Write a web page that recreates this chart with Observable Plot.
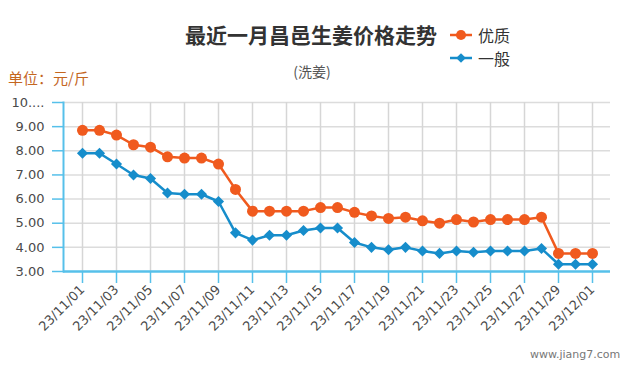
<!DOCTYPE html>
<html><head><meta charset="utf-8">
<script src="https://cdn.jsdelivr.net/npm/d3@7"></script>
<script src="https://cdn.jsdelivr.net/npm/@observablehq/plot@0.6"></script>
<style>
body{margin:0;background:#fff;}
#wrap{position:relative;width:635px;height:375px;overflow:hidden;font-family:"Noto Sans CJK SC","DejaVu Sans",sans-serif;}
#wrap svg.plot{position:absolute;left:0;top:0;}
.abs{position:absolute;white-space:nowrap;}
#title{top:24px;left:0;width:622px;text-align:center;font-size:21px;line-height:21px;font-weight:bold;color:#333;}
#sub{top:64px;left:0;width:624px;text-align:center;font-size:14px;line-height:14px;color:#555;}
#unit{top:70px;left:8px;font-size:15px;line-height:15px;color:#c4661f;}
#wm{top:349px;left:530px;font-size:11px;line-height:11px;color:#777;font-family:"DejaVu Sans",sans-serif;}
.leg{left:450px;font-size:16px;line-height:16px;color:#333;display:flex;align-items:center;}
.leg svg{margin-right:6px;}
</style></head>
<body><div id="wrap"></div>
<script>
const dates = ["23/11/01","23/11/02","23/11/03","23/11/04","23/11/05","23/11/06","23/11/07","23/11/08","23/11/09","23/11/10",
  "23/11/11","23/11/12","23/11/13","23/11/14","23/11/15","23/11/16","23/11/17","23/11/18","23/11/19","23/11/20",
  "23/11/21","23/11/22","23/11/23","23/11/24","23/11/25","23/11/26","23/11/27","23/11/28","23/11/29","23/11/30","23/12/01"];
const youzhi = [8.85,8.85,8.65,8.25,8.15,7.75,7.7,7.7,7.45,6.4,5.5,5.5,5.5,5.5,5.65,5.65,5.45,5.3,5.2,5.25,5.1,5.0,5.15,5.05,5.15,5.15,5.15,5.25,3.75,3.75,3.75];
const yiban = [7.9,7.9,7.45,7.0,6.85,6.25,6.2,6.2,5.9,4.6,4.3,4.5,4.5,4.7,4.8,4.8,4.2,4.0,3.9,4.0,3.85,3.75,3.85,3.8,3.85,3.85,3.85,3.95,3.3,3.3,3.3];
const seriesNames = ["优质","一般"];
const seriesColors = ["#f05a1e","#168dcb"];
const xTicks = dates.filter((d,i)=>i%2===0);
const yTicks = [3,4,5,6,7,8,9,10];
const yTickLabels = ["3.00","4.00","5.00","6.00","7.00","8.00","9.00","10...."];
const title = "最近一月昌邑生姜价格走势";
const subtitle = "(洗姜)";
const unit = "单位：元/斤";
const watermark = "www.jiang7.com";

const rows = dates.flatMap((d,i)=>[
  {date:d, value:youzhi[i], series:seriesNames[0]},
  {date:d, value:yiban[i], series:seriesNames[1]}
]);
const axisBlue = "#56c0ea";

const chart = Plot.plot({
  width:635, height:375,
  marginTop:102, marginBottom:104, marginLeft:63, marginRight:25,
  style:{fontFamily:"DejaVu Sans, sans-serif", fontSize:"13px", background:"transparent", overflow:"visible"},
  x:{type:"point", domain:dates, padding:0.54, label:null},
  y:{domain:[3,10], label:null},
  color:{domain:seriesNames, range:seriesColors},
  marks:[
    Plot.ruleY(yTicks.slice(1), {stroke:"#dcdcdc", strokeWidth:1.5}),
    Plot.ruleX(xTicks, {stroke:"#d6d6d6", strokeWidth:1.5}),
    Plot.frame({anchor:"left", stroke:axisBlue, strokeWidth:2}),
    Plot.ruleY([3], {stroke:axisBlue, strokeWidth:2.5}),
    Plot.axisY({ticks:yTicks, tickSize:11, tickPadding:8, stroke:axisBlue, strokeWidth:1.5, fill:"#4a4a4a",
      tickFormat:d=>yTickLabels[yTicks.indexOf(d)], fontSize:13}),
    Plot.axisX({ticks:xTicks, tickSize:12, tickPadding:4, tickRotate:-45, stroke:axisBlue, strokeWidth:1.5, fill:"#4a4a4a", fontSize:13}),
    Plot.line(rows, {x:"date", y:"value", stroke:"series", strokeWidth:2.5}),
    Plot.dot(rows.filter(r=>r.series===seriesNames[0]), {x:"date", y:"value", fill:"series", r:5.5, symbol:"circle"}),
    Plot.dot(rows.filter(r=>r.series===seriesNames[1]), {x:"date", y:"value", fill:"series", r:5, symbol:"diamond2"})
  ]
});
chart.classList.add("plot");
const wrap = document.getElementById("wrap");
wrap.appendChild(chart);

function addDiv(id, cls, text, top){
  const d = document.createElement("div");
  if (id) d.id = id;
  d.className = "abs " + (cls||"");
  d.textContent = text;
  if (top!=null) d.style.top = top + "px";
  wrap.appendChild(d);
  return d;
}
addDiv("title","",title);
addDiv("sub","",subtitle);
addDiv("unit","",unit);
addDiv("wm","",watermark);

function legendItem(name, color, symbol, top){
  const d = document.createElement("div");
  d.className = "abs leg";
  d.style.top = top + "px";
  const ns = "http://www.w3.org/2000/svg";
  const s = document.createElementNS(ns,"svg");
  s.setAttribute("width","22"); s.setAttribute("height","12");
  const l = document.createElementNS(ns,"line");
  l.setAttribute("x1","0"); l.setAttribute("x2","22"); l.setAttribute("y1","6"); l.setAttribute("y2","6");
  l.setAttribute("stroke",color); l.setAttribute("stroke-width","2.5");
  s.appendChild(l);
  const p = document.createElementNS(ns,"path");
  p.setAttribute("transform","translate(11,6)");
  p.setAttribute("d", d3.symbol(symbol, symbol===d3.symbolCircle ? 80 : 60)());
  p.setAttribute("fill",color);
  s.appendChild(p);
  d.appendChild(s);
  const t = document.createElement("span");
  t.textContent = name;
  d.appendChild(t);
  wrap.appendChild(d);
}
legendItem(seriesNames[0], seriesColors[0], d3.symbolCircle, 27);
legendItem(seriesNames[1], seriesColors[1], d3.symbolDiamond2, 50);
</script>
</body></html>
